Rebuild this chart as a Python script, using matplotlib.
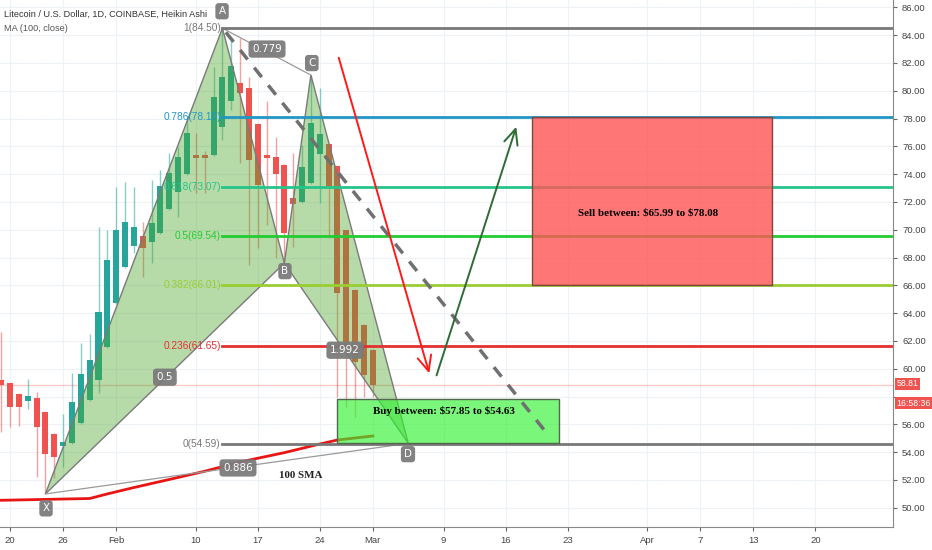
import matplotlib.pyplot as plt
import numpy as np

# day numbers counted from 20 Jan 2020
days = np.arange(-1, 42)
opens = [59.19, 58.97, 58.18, 57.68, 57.89, 56.88, 55.30, 54.44, 54.65, 56.09,
         57.75, 59.19, 61.55, 64.71, 67.30, 68.81, 69.53, 69.10, 69.75, 71.48,
         72.70, 73.99, 75.37, 75.37, 75.37, 77.38, 79.26, 80.55, 80.19, 77.60,
         75.37, 75.22, 74.64, 72.27, 71.98, 73.35, 75.44, 76.16, 74.57, 69.96,
         65.65, 63.13, 61.33]
highs = [62.64, 59.00, 58.25, 59.26, 58.30, 56.95, 55.35, 56.74, 59.69, 61.85,
         62.50, 70.18, 69.96, 73.06, 73.42, 73.06, 70.54, 73.56, 74.29, 75.51,
         75.94, 77.90, 76.95, 75.70, 81.70, 84.50, 83.86, 83.78, 80.98, 77.65,
         79.26, 76.66, 74.70, 75.51, 76.09, 81.13, 80.19, 76.20, 74.60, 70.00,
         65.70, 63.20, 61.40]
lows = [55.45, 55.81, 55.88, 57.10, 52.21, 50.99, 52.14, 52.93, 54.60, 56.05,
        57.70, 58.25, 61.50, 64.65, 67.25, 68.31, 66.58, 67.60, 69.70, 71.40,
        70.90, 73.95, 72.63, 72.63, 75.30, 76.44, 78.60, 74.79, 67.45, 68.67,
        70.32, 67.95, 67.60, 68.74, 71.90, 73.30, 71.91, 69.40, 57.96, 57.24,
        56.53, 57.96, 57.96]
closes = [58.83, 57.24, 57.24, 58.04, 55.81, 53.86, 53.65, 54.73, 57.60, 59.62,
          60.63, 64.06, 67.81, 69.96, 70.54, 70.18, 68.67, 70.47, 73.13, 74.07,
          75.22, 76.95, 75.15, 75.15, 79.55, 80.98, 81.77, 79.83, 75.01, 73.20,
          75.15, 73.99, 69.75, 71.84, 74.50, 77.67, 76.88, 73.13, 65.43, 61.69,
          60.48, 59.55, 58.81]

ma_days = [-2, 9, 11, 14, 18, 22, 26, 31, 35, 37, 41]
ma_vals = [50.52, 50.66, 50.99, 51.45, 52.03, 52.62, 53.29, 53.96, 54.58, 54.87, 55.16]

# harmonic pattern points X, A, B, C, D
pat_names = ['X', 'A', 'B', 'C', 'D']
pat_days = [4, 24, 31, 34, 45]
pat_prices = [50.99, 84.50, 67.60, 81.13, 54.63]

fib_levels = [1, 0.786, 0.618, 0.5, 0.382, 0.236, 0]
fib_prices = [84.50, 78.10, 73.07, 69.54, 66.01, 61.65, 54.59]
fib_colors = ['#787878', '#2196c4', '#26c48a', '#22cc33', '#9acd32', '#e53030', '#787878']

tick_days = [0, 6, 12, 21, 28, 35, 41, 49, 56, 63, 72, 78, 84, 91]
tick_labels = ['20', '26', 'Feb', '10', '17', '24', 'Mar', '9', '16', '23', 'Apr', '7', '13', '20']

sell_box = [59, 86.1, 65.99, 78.08]
buy_box = [36.95, 62.03, 54.63, 57.85]
last_price = 58.81

narrow = ['Liberation Sans Narrow', 'Liberation Sans', 'DejaVu Sans']
serif = ['Liberation Serif', 'DejaVu Serif']

fig = plt.figure(figsize=(9.32, 5.5), dpi=100)
ax = fig.add_axes([0, 23 / 550, 893 / 932, 527 / 550])
ax.set_xlim(-1.13, 99.77)
ax.set_ylim(48.61, 86.53)

# candles
o = np.array(opens); h = np.array(highs); l = np.array(lows); c = np.array(closes)
up = c >= o
cols = np.where(up, '#26a69a', '#ef5350')
ax.vlines(days, l, h, colors=cols, lw=1, alpha=0.55, zorder=2)
ax.bar(days, np.maximum(np.abs(c - o), 0.08), bottom=np.minimum(o, c), width=0.68,
       color=cols, zorder=2.1)

# moving average
ax.plot(ma_days, ma_vals, color='#e81515', lw=2, zorder=2.5)

# pattern triangles
px = np.array(pat_days, dtype=float); py = np.array(pat_prices)
fill_c = (0.29, 0.65, 0.15, 0.4)
for idx in ([0, 1, 2], [2, 3, 4]):
    ax.fill(px[idx], py[idx], facecolor=fill_c, edgecolor='#7a7a7a', lw=1, zorder=3)
ax.plot([px[1], px[3]], [py[1], py[3]], color='#9a9a9a', lw=0.9, zorder=3)
ax.plot([px[0], px[4]], [py[0], py[4]], color='#9a9a9a', lw=0.9, zorder=3)

# fib lines
for lev, pr, col in zip(fib_levels, fib_prices, fib_colors):
    ax.plot([24, 99.77], [pr, pr], color=col, lw=2, zorder=4)
    ax.text(23.8, pr, f'{lev}({pr:.2f})', color=col, fontsize=7.3, family=narrow,
            ha='right', va='center', zorder=8)

# last price line
ax.axhline(last_price, color='#ef5350', lw=1, alpha=0.3, zorder=1.5)

# boxes
ax.add_patch(plt.Rectangle((sell_box[0], sell_box[2]), sell_box[1] - sell_box[0],
                           sell_box[3] - sell_box[2], facecolor=(1, 0.33, 0.33, 0.8),
                           edgecolor='#7a4a40', lw=1, zorder=5))
ax.text(72.1, 71.2, 'Sell between: \\$65.99 to \\$78.08',
        ha='center', va='center', fontsize=7.9, fontweight='bold', family=serif, zorder=6)
ax.add_patch(plt.Rectangle((buy_box[0], buy_box[2]), buy_box[1] - buy_box[0],
                           buy_box[3] - buy_box[2], facecolor=(0.2, 0.95, 0.2, 0.65),
                           edgecolor='#4f6a4a', lw=1, zorder=5))
ax.text(49.0, 56.96, 'Buy between: \\$57.85 to \\$54.63',
        ha='center', va='center', fontsize=7.9, fontweight='bold', family=serif, zorder=6)
ax.text(32.8, 52.3, '100 SMA', ha='center', va='center', fontsize=7.9,
        fontweight='bold', family=serif, color='#222', zorder=6)

# dashed projection and arrows
ax.plot([24.4, 60.9], [84.2, 55.16], color='#707070', lw=2.5, dashes=(3.5, 3),
        zorder=5)
ax.annotate('', xy=(47.46, 59.47), xytext=(37.06, 82.57),
            arrowprops=dict(arrowstyle='->,head_length=1.1,head_width=0.5',
                            color='#ff1a1a', lw=1.4), zorder=6)
ax.annotate('', xy=(57.3, 77.6), xytext=(48.1, 59.33),
            arrowprops=dict(arrowstyle='->,head_length=1.1,head_width=0.5',
                            color='#2e6b35', lw=1.4), zorder=6)

# labels on pattern
box_style = dict(boxstyle='round,pad=0.3', fc='#7b7b7b', ec='none', alpha=0.95)
label_pos = [(4.07, 49.95), (23.96, 85.72), (31.07, 67.02), (34.1, 81.99), (44.97, 53.85)]
for name, (lx, ly) in zip(pat_names, label_pos):
    ax.text(lx, ly, name, color='white', fontsize=7.5, ha='center', va='center',
            bbox=box_style, zorder=9)
ratio_txt = ['0.779', '0.5', '1.992', '0.886']
ratio_pos = [(29.04, 83.0), (17.5, 59.39), (37.85, 61.33), (25.76, 52.86)]
for t, (rx, ry) in zip(ratio_txt, ratio_pos):
    ax.text(rx, ry, t, color='white', fontsize=7.5, ha='center', va='center',
            bbox=dict(boxstyle='round,pad=0.35', fc='#7b7b7b', ec='none', alpha=0.95),
            zorder=9)

# header text
ax.text(0.005, 0.973, 'Litecoin / U.S. Dollar, 1D, COINBASE, Heikin Ashi', transform=ax.transAxes,
        fontsize=6.6, color='#333', family=narrow, va='center')
ax.text(0.005, 0.945, 'MA (100, close)', transform=ax.transAxes,
        fontsize=6.6, color='#555', family=narrow, va='center')

# axes styling (58.00 sits under the live price tags, as on the source)
yt = np.arange(50, 87, 2)
ax.set_xticks(tick_days)
ax.set_xticklabels(tick_labels)
ax.set_yticks(yt)
ax.set_yticklabels(['' if v == 58 else f'{v:.2f}' for v in yt])
ax.yaxis.tick_right()
ax.tick_params(axis='both', labelsize=6.8, colors='#666', length=3, width=0.8)
for lab in ax.get_xticklabels() + ax.get_yticklabels():
    lab.set_family(narrow)
    lab.set_color('#444')
ax.grid(True, color='#edf2f7', lw=0.8, zorder=0)
ax.set_axisbelow(True)
for s in ['left', 'top']:
    ax.spines[s].set_visible(False)
for s in ['right', 'bottom']:
    ax.spines[s].set_color('#888')

# last price tags
tr = ax.get_yaxis_transform()
ax.text(1.004, last_price + 0.1, '58.81', transform=tr, color='white', fontsize=6.3,
        va='center', family=narrow,
        bbox=dict(boxstyle='square,pad=0.15', fc='#ef5350', ec='none'), clip_on=False)
ax.text(1.004, last_price - 1.3, '16:58:36', transform=tr, color='white', fontsize=6.3,
        va='center', family=narrow,
        bbox=dict(boxstyle='square,pad=0.15', fc='#ef5350', ec='none'), clip_on=False)

plt.savefig('out.png', dpi=100)
